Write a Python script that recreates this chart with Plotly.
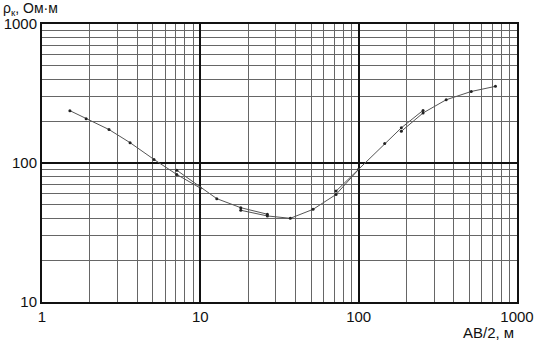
import plotly.graph_objects as go

# AB/2 (m) and apparent resistivity (Ohm*m), overlapping sounding segments
seg1_x = [1.5, 1.9, 2.65, 3.6, 5.1, 7.1, 10.0]
seg1_y = [238, 208, 174, 140, 106, 82.7, 66]

seg2_x = [7.1, 12.7, 18.0, 26.5]
seg2_y = [88.7, 55.4, 47.7, 42.8]

seg3_x = [18.0, 26.5, 37.0, 51.5, 72.0, 100.0]
seg3_y = [45.7, 41.6, 40.0, 46.4, 59.4, 90.0]

seg4_x = [72.0, 146.0, 186.0, 255.0]
seg4_y = [62.8, 138.0, 179.0, 239.0]

seg5_x = [186.0, 255.0, 357.0, 514.0, 731.0]
seg5_y = [169.0, 229.0, 285.0, 327.0, 356.0]

major_ticks = [1, 10, 100, 1000]
x_minor = [m * d for d in (1, 10, 100) for m in range(2, 10)]
y_minor = [m * d for d in (10, 100) for m in range(2, 10)]

fig = go.Figure()
for sx, sy in [(seg1_x, seg1_y), (seg2_x, seg2_y), (seg3_x, seg3_y),
               (seg4_x, seg4_y), (seg5_x, seg5_y)]:
    fig.add_trace(go.Scatter(
        x=sx, y=sy, mode="lines+markers",
        line=dict(color="#555555", width=1),
        marker=dict(color="#222222", size=3),
        showlegend=False, hoverinfo="skip"))

font = dict(family="Liberation Sans, Arial, sans-serif", size=15, color="#111111")
title_font = dict(family="Liberation Sans, Arial, sans-serif", size=14, color="#111111")

fig.update_xaxes(
    type="log", range=[0, 3], automargin=False,
    tickvals=major_ticks, ticktext=[str(v) for v in major_ticks],
    showgrid=True, gridcolor="#111111", gridwidth=2,
    minor=dict(tickvals=x_minor, showgrid=True, gridcolor="#666666", gridwidth=1),
    showline=True, linecolor="#111111", linewidth=2, mirror=True,
    ticks="", tickfont=font, zeroline=False)
fig.update_yaxes(
    type="log", range=[1, 3], automargin=False,
    tickvals=major_ticks[1:], ticktext=[str(v) for v in major_ticks[1:]],
    showgrid=True, gridcolor="#111111", gridwidth=2,
    minor=dict(tickvals=y_minor, showgrid=True, gridcolor="#666666", gridwidth=1),
    showline=True, linecolor="#111111", linewidth=2, mirror=True,
    ticks="", tickfont=font, zeroline=False)

fig.add_annotation(text="ρ<sub>к</sub>, Ом·м", xref="paper", yref="paper",
                   x=0, y=1, xanchor="left", yanchor="middle",
                   xshift=-41, yshift=15, showarrow=False, font=title_font)
fig.add_annotation(text="AB/2, м", xref="paper", yref="paper",
                   x=1, y=0, xanchor="right", yanchor="middle",
                   xshift=-1, yshift=-30, showarrow=False, font=font)

fig.update_layout(
    width=537, height=341,
    margin=dict(l=42, r=20, t=24, b=39),
    paper_bgcolor="white", plot_bgcolor="white")

fig.write_html("out.html")
